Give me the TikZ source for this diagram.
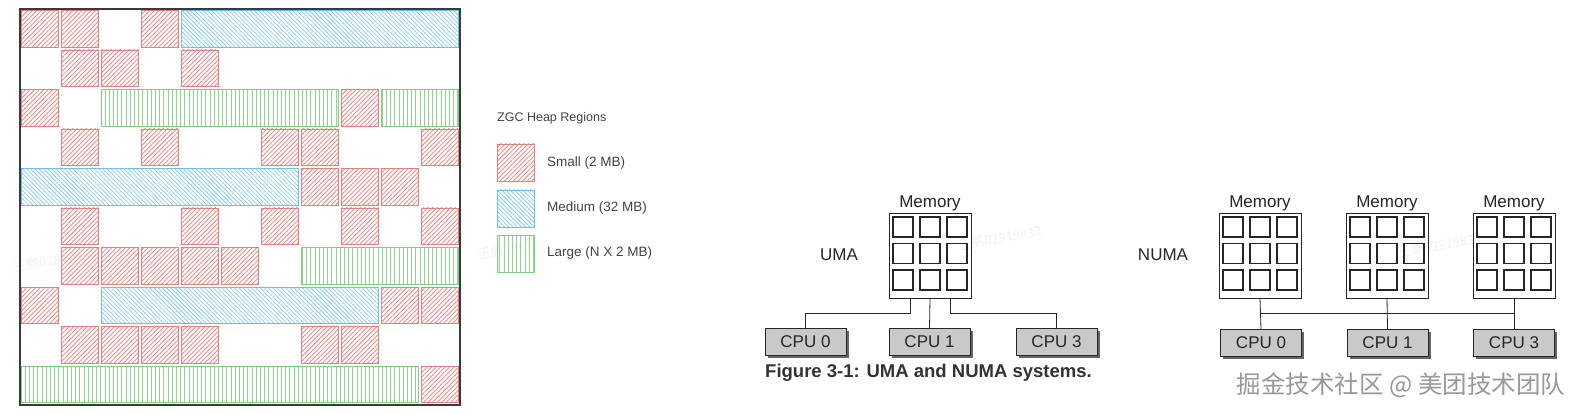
\documentclass[tikz,border=0pt]{standalone}
\usepackage{fontspec}
\setmainfont{Liberation Sans}
\newfontfamily\cjkf{Noto Sans CJK SC}
\usetikzlibrary{patterns.meta,calc,shadows}
\definecolor{sred}{HTML}{EA8E8E}
\definecolor{sredb}{HTML}{E08080}
\definecolor{mblue}{HTML}{86CBEA}
\definecolor{mblueb}{HTML}{6EC0E8}
\definecolor{lgreen}{HTML}{8ED48E}
\definecolor{lgreenb}{HTML}{80CC80}
\definecolor{cpugray}{HTML}{C9C9C9}
\definecolor{framec}{HTML}{3A3A3A}
\definecolor{legtext}{HTML}{444444}
\newcommand\zcell[3]{\path[#3] ({20+40*#1+1.5},{9.5+39.5*#2+1}) rectangle ({20+40*#1+38.5},{9.5+39.5*#2+37.5});}
\newcommand\zspan[4]{\path[#4] ({20+40*#1+1.5},{9.5+39.5*#3+1}) rectangle ({20+40*#2+38.5},{9.5+39.5*#3+37.5});}
\tikzset{
  regS/.style={draw=sredb, line width=0.9pt, pattern={Lines[angle=45,distance=3.2pt,line width=0.9pt]}, pattern color=sred},
  regM/.style={draw=mblueb, line width=0.9pt, pattern={Lines[angle=-45,distance=3pt,line width=0.75pt]}, pattern color=mblue},
  regL/.style={draw=lgreenb, line width=0.9pt, pattern={Lines[angle=90,distance=4.2pt,line width=0.85pt]}, pattern color=lgreen},
  dtext/.style={font=\fontsize{17}{20}\selectfont, text=black!85, inner sep=0},
  legtxt/.style={font=\fontsize{13.5}{16}\selectfont, text=legtext, anchor=west, inner sep=0},
  membox/.style={draw=black!85, line width=0.9pt, minimum width=82pt, minimum height=85pt, inner sep=0},
  cpubox/.style={draw=black!85, line width=0.8pt, fill=cpugray, minimum width=81pt, minimum height=27pt, inner sep=0,
    font=\fontsize{17}{20}\selectfont, text=black!85,
    copy shadow={shadow xshift=2.5pt, shadow yshift=-2.5pt, fill=black!60, draw=none}},
  wire/.style={draw=black!85, line width=0.8pt},
  faintwm/.style={font=\cjkf\fontsize{13}{15}\selectfont, text=black!5, rotate=10, inner sep=0}
}
\begin{document}
\begin{tikzpicture}[x=1pt,y=-1pt]
\fill[white] (0,0) rectangle (1584,414);
\useasboundingbox (0,0) rectangle (1584,414);

% faint watermarks
\node[faintwm] (wm1) at (55,260) {王鹏02819833};
\node[faintwm] (wm2) at (505,250) {王鹏0281};
\node[faintwm] (wm3) at (1000,238) {王鹏02819833};
\node[faintwm] (wm4) at (1440,245) {王鹏02819833};

% ZGC heap grid
\foreach \c in {0,1,3} {\zcell{\c}{0}{regS}}
\zspan{4}{10}{0}{regM}
\foreach \c in {1,2,4} {\zcell{\c}{1}{regS}}
\foreach \c in {0,8} {\zcell{\c}{2}{regS}}
\zspan{2}{7}{2}{regL}
\zspan{9}{10}{2}{regL}
\foreach \c in {1,3,6,7,10} {\zcell{\c}{3}{regS}}
\zspan{0}{6}{4}{regM}
\foreach \c in {7,8,9} {\zcell{\c}{4}{regS}}
\foreach \c in {1,4,6,8,10} {\zcell{\c}{5}{regS}}
\foreach \c in {1,2,3,4,5} {\zcell{\c}{6}{regS}}
\zspan{7}{10}{6}{regL}
\foreach \c in {0,9,10} {\zcell{\c}{7}{regS}}
\zspan{2}{8}{7}{regM}
\foreach \c in {1,2,3,4,7,8} {\zcell{\c}{8}{regS}}
\zspan{0}{9}{9}{regL}
\zcell{10}{9}{regS}
\draw[framec, line width=1.6pt] (20,9) rectangle (460,405);

% legend
\node[legtxt, font=\fontsize{12.5}{15}\selectfont] (legtitle) at (497,118) {ZGC Heap Regions};
\path[regS] (497,144) rectangle (534,181);
\path[regM] (497,190) rectangle (534,227);
\path[regL] (497,235) rectangle (534,272);
\node[legtxt] (legS) at (547,163) {Small (2 MB)};
\node[legtxt] (legM) at (547,208) {Medium (32 MB)};
\node[legtxt] (legL) at (547,253) {Large (N X 2 MB)};

% UMA
\node[dtext] (umalabel) at (839,255) {UMA};
\node[membox] (umamem) at (930,255.5) {};
\node[dtext, anchor=south] (umamemlbl) at ([yshift=1pt]umamem.north) {Memory};
\foreach \i in {0,1,2} \foreach \j in {0,1,2}
  \draw[black!85, line width=1.6pt] ($(umamem.north west)+(4.5+27*\i,4.5+26.5*\j)$) rectangle ++(20,20);
\node[cpubox] (ucpu0) at (805.5,342) {CPU 0};
\node[cpubox] (ucpu1) at (929.5,342) {CPU 1};
\node[cpubox] (ucpu3) at (1056.5,342) {CPU 3};
\draw[wire] ([xshift=-20pt]umamem.south) -- ++(0,15) -| (ucpu0.north);
\draw[wire] (umamem.south) -- (ucpu1.north);
\draw[wire] ([xshift=20pt]umamem.south) -- ++(0,15) -| (ucpu3.north);

% NUMA
\node[dtext] (numalabel) at (1163,255) {NUMA};
\node[membox] (nmem0) at (1260,255.5) {};
\node[membox] (nmem1) at (1387,255.5) {};
\node[membox] (nmem2) at (1514,255.5) {};
\foreach \m in {nmem0,nmem1,nmem2} {
  \node[dtext, anchor=south] (\m lbl) at ([yshift=1pt]\m.north) {Memory};
  \foreach \i in {0,1,2} \foreach \j in {0,1,2}
    \draw[black!85, line width=1.6pt] ($(\m.north west)+(4.5+27*\i,4.5+26.5*\j)$) rectangle ++(20,20);
}
\node[cpubox] (ncpu0) at (1261,343) {CPU 0};
\node[cpubox] (ncpu1) at (1387.5,343) {CPU 1};
\node[cpubox] (ncpu3) at (1514,343) {CPU 3};
\draw[wire] (nmem0.south) -- (ncpu0.north);
\draw[wire] (nmem1.south) -- (ncpu1.north);
\draw[wire] (nmem2.south) -- (ncpu3.north);
\coordinate (busL) at ($(nmem0.south)!0.5!(ncpu0.north)$);
\coordinate (busR) at ($(nmem2.south)!0.5!(ncpu3.north)$);
\draw[wire] (busL) -- (busR);

% caption
\node[font=\bfseries\fontsize{18.5}{22}\selectfont, text=black!80, inner sep=0, anchor=west] (caption) at (765,373) {Figure 3-1: UMA and NUMA systems.};

% site watermark
\node[font=\cjkf\fontsize{24.5}{28}\selectfont, text=black!40, inner sep=0] (sitewm) at (1401,385) {掘金技术社区 @ 美团技术团队};
\end{tikzpicture}
\end{document}
